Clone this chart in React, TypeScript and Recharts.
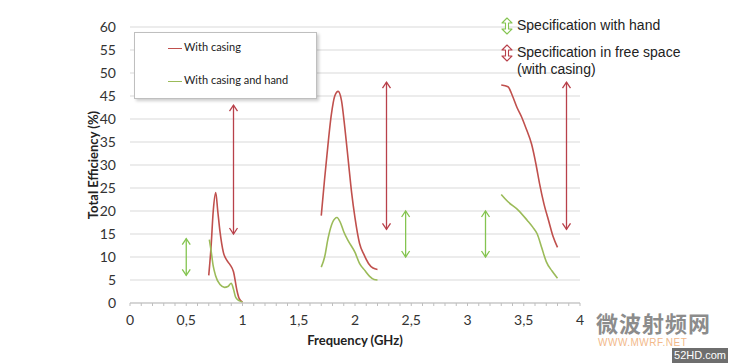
import React from 'react';
import { LineChart, Line, XAxis, YAxis, CartesianGrid, ReferenceLine } from 'recharts';

type Pt = { f: number; v: number };

// "With casing" measured in three bands
const casingLow: Pt[] = [
  { f: 0.7, v: 6 }, { f: 0.72, v: 12 }, { f: 0.74, v: 20 }, { f: 0.762, v: 24 }, { f: 0.78, v: 20 },
  { f: 0.8, v: 15.5 }, { f: 0.83, v: 11 }, { f: 0.86, v: 9.3 }, { f: 0.89, v: 8.3 }, { f: 0.92, v: 6.8 },
  { f: 0.95, v: 2.8 }, { f: 0.97, v: 1 }, { f: 1.0, v: 0.2 },
];
const casingMid: Pt[] = [
  { f: 1.7, v: 19 }, { f: 1.73, v: 27 }, { f: 1.75, v: 32 }, { f: 1.79, v: 41 }, { f: 1.82, v: 45 },
  { f: 1.85, v: 46 }, { f: 1.88, v: 44 }, { f: 1.91, v: 38 }, { f: 1.94, v: 31 }, { f: 1.97, v: 24 },
  { f: 2.0, v: 18.5 }, { f: 2.04, v: 13 }, { f: 2.08, v: 10.5 }, { f: 2.12, v: 8.6 }, { f: 2.16, v: 7.6 },
  { f: 2.2, v: 7.3 },
];
const casingHigh: Pt[] = [
  { f: 3.3, v: 47.4 }, { f: 3.36, v: 47 }, { f: 3.4, v: 45 }, { f: 3.44, v: 42.5 }, { f: 3.48, v: 40.5 },
  { f: 3.52, v: 38 }, { f: 3.57, v: 34.5 }, { f: 3.61, v: 30 }, { f: 3.64, v: 26 }, { f: 3.68, v: 21.5 },
  { f: 3.72, v: 18 }, { f: 3.76, v: 14.5 }, { f: 3.8, v: 12.1 },
];

// "With casing and hand"
const handLow: Pt[] = [
  { f: 0.705, v: 13.8 }, { f: 0.72, v: 11.5 }, { f: 0.74, v: 8 }, { f: 0.76, v: 6 }, { f: 0.8, v: 4 },
  { f: 0.84, v: 3.4 }, { f: 0.87, v: 3.6 }, { f: 0.9, v: 4.3 }, { f: 0.92, v: 3 }, { f: 0.94, v: 1.2 },
  { f: 0.97, v: 0.5 }, { f: 1.0, v: 0.2 },
];
const handMid: Pt[] = [
  { f: 1.7, v: 7.8 }, { f: 1.73, v: 10 }, { f: 1.76, v: 14 }, { f: 1.8, v: 17.5 }, { f: 1.84, v: 18.6 },
  { f: 1.87, v: 17.5 }, { f: 1.9, v: 15.5 }, { f: 1.94, v: 13.5 }, { f: 2.0, v: 11 }, { f: 2.04, v: 8.6 },
  { f: 2.09, v: 7 }, { f: 2.13, v: 5.8 }, { f: 2.17, v: 5.1 }, { f: 2.2, v: 5 },
];
const handHigh: Pt[] = [
  { f: 3.3, v: 23.6 }, { f: 3.36, v: 22 }, { f: 3.45, v: 20.2 }, { f: 3.53, v: 18 }, { f: 3.58, v: 16.5 },
  { f: 3.62, v: 15 }, { f: 3.66, v: 12 }, { f: 3.7, v: 9 }, { f: 3.75, v: 7 }, { f: 3.8, v: 5.4 },
];

// specification ranges (double arrows)
const specHand = [
  { f: 0.5, lo: 6, hi: 14 },
  { f: 2.45, lo: 10, hi: 20 },
  { f: 3.16, lo: 10, hi: 20 },
];
const specFree = [
  { f: 0.92, lo: 15, hi: 43 },
  { f: 2.28, lo: 16, hi: 48 },
  { f: 3.88, lo: 16, hi: 48 },
];

const xTicks = Array.from({ length: 41 }, (_, i) => i / 10);
const yTicks = [0, 5, 10, 15, 20, 25, 30, 35, 40, 45, 50, 55, 60];

const RED = '#c0504d';
const GREEN = '#9bbb59';
const ARROW_RED = '#b8404a';
const ARROW_GREEN = '#84c450';
const AXIS_FONT = 'Lato, "Open Sans", sans-serif';
const ARIAL = '"Liberation Sans", Arial, sans-serif';

const fmtX = (v: number) => {
  const r = Math.round(v * 10);
  if (r % 5 !== 0) return '';
  return String(r / 10).replace('.', ',');
};

const arrowShape = (color: string) => (props: any) => {
  const { x1, y1, x2, y2 } = props;
  const top = Math.min(y1, y2);
  const bot = Math.max(y1, y2);
  const x = x1;
  return (
    <g>
      <line x1={x} y1={top} x2={x} y2={bot} stroke={color} strokeWidth={1.3} />
      <polyline points={`${x - 4},${top + 6} ${x},${top} ${x + 4},${top + 6}`} fill="none" stroke={color} strokeWidth={1.3} />
      <polyline points={`${x - 4},${bot - 6} ${x},${bot} ${x + 4},${bot - 6}`} fill="none" stroke={color} strokeWidth={1.3} />
    </g>
  );
};

const MiniArrow = ({ color }: { color: string }) => (
  <svg width={12} height={18} style={{ position: 'absolute', left: 0, top: 0 }}>
    <path
      d="M6,1 L11,6 L7.5,6 L7.5,12 L11,12 L6,17 L1,12 L4.5,12 L4.5,6 L1,6 Z"
      fill="#fff"
      stroke={color}
      strokeWidth={1.1}
      strokeLinejoin="round"
    />
  </svg>
);

const series: { data: Pt[]; color: string }[] = [
  { data: casingLow, color: RED },
  { data: casingMid, color: RED },
  { data: casingHigh, color: RED },
  { data: handLow, color: GREEN },
  { data: handMid, color: GREEN },
  { data: handHigh, color: GREEN },
];

export default function App() {
  return (
    <div style={{ position: 'absolute', left: 0, top: 0, width: 736, height: 364, background: '#fff', overflow: 'hidden' }}>
      <LineChart width={736} height={364} margin={{ top: 27, right: 156, bottom: 17, left: 0 }}>
        <CartesianGrid vertical={false} stroke="#d9d9d9" />
        <XAxis
          type="number"
          dataKey="f"
          domain={[0, 4]}
          ticks={xTicks}
          interval={0}
          tickFormatter={fmtX}
          height={44}
          stroke="#bfbfbf"
          tickSize={3}
          tickMargin={9}
          tick={{ fill: '#333', fontSize: 14, fontFamily: AXIS_FONT }}
          label={{ value: 'Frequency (GHz)', position: 'insideBottom', offset: 2, fill: '#222', fontSize: 13, fontWeight: 700, fontFamily: AXIS_FONT }}
        />
        <YAxis
          type="number"
          domain={[0, 60]}
          ticks={yTicks}
          interval={0}
          width={130}
          axisLine={false}
          tickLine={false}
          tickSize={0}
          tickMargin={14}
          tick={{ fill: '#333', fontSize: 14, fontFamily: AXIS_FONT }}
          label={{ value: 'Total Efficiency (%)', angle: -90, position: 'insideLeft', offset: 93, textAnchor: 'middle', fill: '#222', fontSize: 13, fontWeight: 700, fontFamily: AXIS_FONT }}
        />
        {series.map((s, i) => (
          <Line
            key={i}
            data={s.data}
            dataKey="v"
            type="monotone"
            stroke={s.color}
            strokeWidth={1.6}
            dot={false}
            activeDot={false}
            isAnimationActive={false}
          />
        ))}
        {specHand.map((s, i) => (
          <ReferenceLine
            key={`h${i}`}
            segment={[{ x: s.f, y: s.lo }, { x: s.f, y: s.hi }]}
            shape={arrowShape(ARROW_GREEN)}
          />
        ))}
        {specFree.map((s, i) => (
          <ReferenceLine
            key={`r${i}`}
            segment={[{ x: s.f, y: s.lo }, { x: s.f, y: s.hi }]}
            shape={arrowShape(ARROW_RED)}
          />
        ))}
      </LineChart>

      {/* series legend box */}
      <div
        style={{
          position: 'absolute', left: 134, top: 32, width: 181, height: 65,
          border: '1px solid #bfbfbf', background: '#fff', boxShadow: '2px 2px 3px rgba(0,0,0,0.2)',
          fontFamily: AXIS_FONT, fontSize: 11, color: '#222',
        }}
      >
        <div style={{ position: 'absolute', left: 33, top: 15, width: 14, height: 0, borderTop: `1.5px solid ${RED}` }} />
        <div style={{ position: 'absolute', left: 49, top: 7, whiteSpace: 'nowrap' }}>With casing</div>
        <div style={{ position: 'absolute', left: 33, top: 48, width: 14, height: 0, borderTop: `1.5px solid ${GREEN}` }} />
        <div style={{ position: 'absolute', left: 49, top: 40, whiteSpace: 'nowrap' }}>With casing and hand</div>
      </div>

      {/* specification legend */}
      <div style={{ position: 'absolute', left: 501, top: 17, fontFamily: ARIAL, fontSize: 14, color: '#222', lineHeight: '17px', whiteSpace: 'nowrap' }}>
        <div style={{ position: 'relative', paddingLeft: 16 }}>
          <MiniArrow color={ARROW_GREEN} />
          Specification with hand
        </div>
        <div style={{ position: 'relative', paddingLeft: 16, marginTop: 10 }}>
          <MiniArrow color={ARROW_RED} />
          Specification in free space
          <br />
          (with casing)
        </div>
      </div>

      {/* watermark */}
      <div style={{ position: 'absolute', left: 596, top: 311, fontFamily: '"Noto Sans CJK SC", sans-serif', fontWeight: 700, fontSize: 22, lineHeight: '22px', color: '#8c8c8c', letterSpacing: 1 }}>
        微波射频网
      </div>
      <div style={{ position: 'absolute', left: 598, top: 338, fontFamily: ARIAL, fontSize: 10, lineHeight: '10px', color: '#f2b98a', letterSpacing: 0.5 }}>
        WWW.MWRF.NET
      </div>
      <div style={{ position: 'absolute', left: 672, top: 348, width: 56, height: 15, background: '#6e6e6e', color: '#fff', fontFamily: ARIAL, fontSize: 11, lineHeight: '15px', textAlign: 'center' }}>
        52HD.com
      </div>
    </div>
  );
}
